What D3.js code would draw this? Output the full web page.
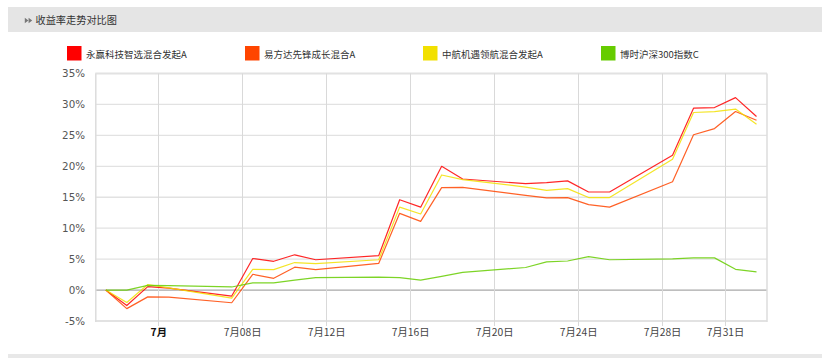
<!DOCTYPE html>
<html><head><meta charset="utf-8">
<script src="https://cdn.jsdelivr.net/npm/d3@7/dist/d3.min.js"></script>
<style>
body{margin:0;background:#fff;}
svg{display:block;}
</style></head>
<body>
<svg id="chart" width="830" height="358"></svg>
<script>
// ---- data ----
const title = "收益率走势对比图";
const seriesNames = ["永赢科技智选混合发起A","易方达先锋成长混合A","中航机遇领航混合发起A","博时沪深300指数C"];
const seriesColors = ["#ff0000","#ff4500","#f2e000","#66cc00"];
const dates = ["2025-07-01","2025-07-02","2025-07-03","2025-07-04","2025-07-07","2025-07-08","2025-07-09","2025-07-10","2025-07-11",
  "2025-07-14","2025-07-15","2025-07-16","2025-07-17","2025-07-18","2025-07-21","2025-07-22","2025-07-23","2025-07-24","2025-07-25",
  "2025-07-28","2025-07-29","2025-07-30","2025-07-31","2025-08-01"];
const yongying = [0,-2.5,0.55,0.3,-0.97,5.1,4.65,5.7,4.9,5.55,14.6,13.4,20.0,17.95,17.2,17.35,17.65,15.85,15.85,21.8,29.4,29.5,31.1,28.05];
const yifangda = [0,-3.0,-1.1,-1.15,-2.05,2.55,1.9,3.7,3.3,4.3,12.4,11.1,16.55,16.6,15.3,14.9,14.95,13.8,13.4,17.5,25.1,26.1,28.85,27.45];
const zhonghang = [0,-2.0,0.9,0.35,-1.3,3.35,3.3,4.45,4.27,4.9,13.4,12.3,18.6,17.85,16.65,16.1,16.4,14.95,14.95,21.15,28.7,28.85,29.25,26.8];
const boshi300 = [0,0,0.75,0.72,0.5,1.15,1.15,1.6,2.0,2.1,2.0,1.6,2.2,2.85,3.65,4.55,4.7,5.4,4.9,5.05,5.2,5.2,3.35,2.95];
const yTicks = [-5,0,5,10,15,20,25,30,35];
const xTickDates = ["2025-07-04","2025-07-08","2025-07-12","2025-07-16","2025-07-20","2025-07-24","2025-07-28","2025-07-31"];
const xTickLabels = ["7月","7月08日","7月12日","7月16日","7月20日","7月24日","7月28日","7月31日"];

const allSeries = [yongying, yifangda, zhonghang, boshi300];

// ---- chart ----
const svg = d3.select("#chart");
const font = "'Noto Sans CJK SC','Noto Sans',sans-serif";
const parseDay = s => new Date(s + "T00:00:00Z");
const noon = s => new Date(s + "T12:00:00Z");

// header band
svg.append("rect").attr("x",8).attr("y",7).attr("width",814).attr("height",25).attr("fill","#e5e5e5");
svg.append("path").attr("d","M24.8,17.8L28.4,20.5L24.8,23.2Z M28.6,17.8L32.2,20.5L28.6,23.2Z").attr("fill","#777");
svg.append("text").attr("x",35.5).attr("y",24).attr("font-family",font).attr("font-size",10.2).attr("fill","#333").text(title);

// bottom band
svg.append("rect").attr("x",8).attr("y",354).attr("width",814).attr("height",4).attr("fill","#e8e8e8");

// legend
const legX = [67,245,423,601];
const leg = svg.append("g");
seriesNames.forEach((n,i)=>{
  leg.append("rect").attr("x",legX[i]).attr("y",46).attr("width",14.5).attr("height",14.5).attr("fill",seriesColors[i]);
  leg.append("text").attr("x",legX[i]+19).attr("y",57.5).attr("font-family",font).attr("font-size",9.5).attr("fill","#333").text(n);
});

const x = d3.scaleUtc().domain([parseDay("2025-07-01"), parseDay("2025-08-02")]).range([95.3, 767]);
const y = d3.scaleLinear().domain([-5,35]).range([321,73.5]);

// horizontal grid
const grid = svg.append("g");
yTicks.forEach(t=>{
  grid.append("line").attr("x1",95.3).attr("x2",767).attr("y1",y(t)).attr("y2",y(t))
    .attr("stroke", t===0 ? "#a8a8a8" : "#e2e2e2").attr("stroke-width", (t===35||t===-5)?2:1.3);
});
// vertical grid at ticks
xTickDates.forEach(d=>{
  const xx = Math.round(x(parseDay(d)))+0.5;
  grid.append("line").attr("x1",xx).attr("x2",xx).attr("y1",y(35)).attr("y2",y(-5)+5)
    .attr("stroke","#d9d9d9").attr("stroke-width",1);
});
// frame sides
grid.append("line").attr("x1",95.8).attr("x2",95.8).attr("y1",y(35)).attr("y2",y(-5)+1).attr("stroke","#dcdcdc").attr("stroke-width",1.5);
grid.append("line").attr("x1",767).attr("x2",767).attr("y1",y(35)).attr("y2",y(-5)+1).attr("stroke","#dcdcdc").attr("stroke-width",1.5);

// y labels
const yAxis = d3.axisLeft(y).tickValues(yTicks).tickFormat(d=>d+"%").tickSize(0).tickPadding(0);
const ya = svg.append("g").attr("transform","translate(85,0)").call(yAxis);
ya.select(".domain").remove();
ya.selectAll("text").attr("font-family","'DejaVu Sans',sans-serif").attr("font-size",10.3).attr("fill","#555");

// x labels
const xAxis = d3.axisBottom(x).tickValues(xTickDates.map(parseDay)).tickFormat((d,i)=>xTickLabels[i]).tickSize(0).tickPadding(0);
const xa = svg.append("g").attr("transform","translate(0,329)").call(xAxis);
xa.select(".domain").remove();
xa.selectAll("text").attr("font-family",font).attr("font-size",10.3)
  .attr("font-weight",(d,i)=>i===0?"bold":"normal").attr("fill",(d,i)=>i===0?"#111":"#444");

// lines
const line = d3.line().x(d=>x(d[0])).y(d=>y(d[1]));
allSeries.forEach((s,i)=>{
  const pts = dates.map((d,j)=>[noon(d), s[j]]);
  svg.append("path").datum(pts).attr("d",line).attr("fill","none")
    .attr("stroke",seriesColors[i]).attr("stroke-width",1.2).attr("stroke-opacity",0.85)
    .attr("stroke-linejoin","round");
});
</script>
</body></html>
